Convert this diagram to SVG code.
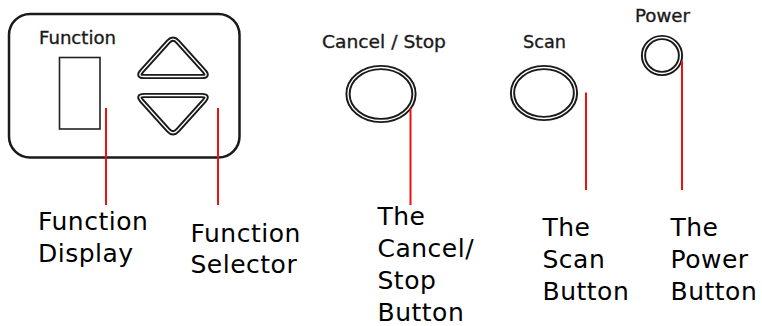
<svg xmlns="http://www.w3.org/2000/svg" width="762" height="326" viewBox="0 0 762 326">
<style>
.bg{fill:#fff}
.panel{fill:none;stroke:#1a1a1a;stroke-width:2.5}
.thin{fill:none;stroke:#222;stroke-width:1.6}
.ring{fill:none;stroke:#1a1a1a;stroke-width:5.2}
.gap{fill:none;stroke:#fff;stroke-width:1.3}
.lead{stroke:#ee1111;stroke-width:2;fill:none}
.top{font-family:"DejaVu Sans","Liberation Sans",sans-serif;font-size:18px;fill:#1a1a1a;stroke:#1a1a1a;stroke-width:0.35}
.lab{font-family:"DejaVu Sans","Liberation Sans",sans-serif;font-size:25px;fill:#000;letter-spacing:0.5px}
</style>
<rect class="bg" x="0" y="0" width="762" height="326"/>
<g id="function-panel">
<rect class="panel" x="9" y="14" width="230.5" height="143.5" rx="21"/>
<text class="top" x="39" y="44" textLength="77" lengthAdjust="spacingAndGlyphs">Function</text>
</g>
<g id="function-display">
<rect class="thin" x="59.5" y="57.5" width="40.5" height="71.5"/>
<text class="lab" x="38" y="230">Function</text>
<text class="lab" x="38" y="261.5">Display</text>
</g>
<g id="function-selector">
<path class="ring" d="M168.3,41.7 Q173,36.5 177.7,41.7 L204.3,71.3 Q209,76.5 202,76.5 L144,76.5 Q137,76.5 141.7,71.3 Z"/>
<path class="gap" d="M168.3,41.7 Q173,36.5 177.7,41.7 L204.3,71.3 Q209,76.5 202,76.5 L144,76.5 Q137,76.5 141.7,71.3 Z"/>
<path class="ring" d="M168.3,130.3 Q173,135.5 177.7,130.3 L204.3,100.7 Q209,95.5 202,95.5 L144,95.5 Q137,95.5 141.7,100.7 Z"/>
<path class="gap" d="M168.3,130.3 Q173,135.5 177.7,130.3 L204.3,100.7 Q209,95.5 202,95.5 L144,95.5 Q137,95.5 141.7,100.7 Z"/>
<text class="lab" x="190.5" y="241.7">Function</text>
<text class="lab" x="190.5" y="273.3">Selector</text>
</g>
<g id="cancel-stop-button">
<text class="top" x="322" y="48.3" textLength="124" lengthAdjust="spacingAndGlyphs">Cancel / Stop</text>
<ellipse class="ring" cx="381" cy="94" rx="33" ry="26.5"/>
<ellipse class="gap" cx="381" cy="94" rx="33" ry="26.5"/>
<text class="lab" x="377.5" y="225">The</text>
<text class="lab" x="377.5" y="257">Cancel/</text>
<text class="lab" x="377.5" y="289">Stop</text>
<text class="lab" x="377.5" y="321">Button</text>
</g>
<g id="scan-button">
<text class="top" x="523" y="48.3" textLength="43" lengthAdjust="spacingAndGlyphs">Scan</text>
<ellipse class="ring" cx="544" cy="93" rx="31.5" ry="25.5"/>
<ellipse class="gap" cx="544" cy="93" rx="31.5" ry="25.5"/>
<text class="lab" x="542.5" y="236">The</text>
<text class="lab" x="542.5" y="268">Scan</text>
<text class="lab" x="542.5" y="300">Button</text>
</g>
<g id="power-button">
<text class="top" x="635" y="21.7" textLength="55" lengthAdjust="spacingAndGlyphs">Power</text>
<ellipse class="ring" cx="662" cy="55.5" rx="18.5" ry="18"/>
<ellipse class="gap" cx="662" cy="55.5" rx="18.5" ry="18"/>
<text class="lab" x="670.5" y="236">The</text>
<text class="lab" x="670.5" y="268">Power</text>
<text class="lab" x="670.5" y="300">Button</text>
</g>
<g id="connectors">
<line class="lead" x1="106" y1="108" x2="106" y2="205"/>
<line class="lead" x1="218" y1="108" x2="218" y2="205"/>
<line class="lead" x1="410.5" y1="108" x2="410.5" y2="205"/>
<line class="lead" x1="586" y1="92.5" x2="586" y2="190"/>
<line class="lead" x1="682" y1="61" x2="682" y2="190"/>
</g>
</svg>
